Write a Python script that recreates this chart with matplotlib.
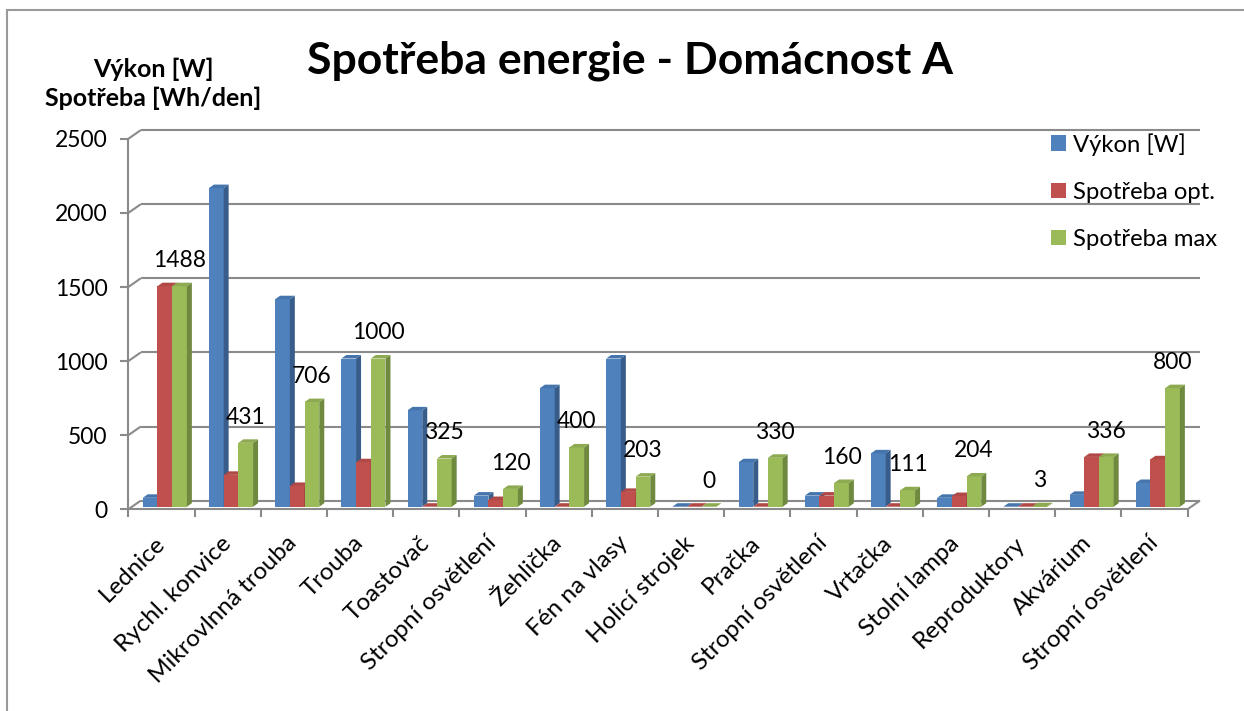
import numpy as np
import matplotlib
matplotlib.use("Agg")
import matplotlib.pyplot as plt
from matplotlib.patches import Polygon, Rectangle, Patch
from matplotlib.transforms import ScaledTranslation

plt.rcParams["font.family"] = ["Lato", "DejaVu Sans"]

# --- data -------------------------------------------------------------
categories = ["Lednice", "Rychl. konvice", "Mikrovlnná trouba", "Trouba",
              "Toastovač", "Stropní osvětlení", "Žehlička", "Fén na vlasy",
              "Holicí strojek", "Pračka", "Stropní osvětlení", "Vrtačka",
              "Stolní lampa", "Reproduktory", "Akvárium", "Stropní osvětlení"]
vykon = [60, 2150, 1400, 1000, 650, 75, 800, 1000, 0, 300, 75, 360, 60, 0, 80, 160]
spotreba_opt = [1488, 215, 140, 300, 0, 45, 0, 100, 0, 0, 75, 0, 72, 0, 336, 320]
spotreba_max = [1488, 431, 706, 1000, 325, 120, 400, 203, 0, 330, 160, 111, 204, 3, 336, 800]
series_names = ["Výkon [W]", "Spotřeba opt.", "Spotřeba max"]
y_ticks = [0, 500, 1000, 1500, 2000, 2500]

title = "Spotřeba energie - Domácnost A"
y_title = "Výkon [W]\nSpotřeba [Wh/den]"

# --- style ------------------------------------------------------------
front_cols = ["#4F81BD", "#C0504D", "#9BBB59"]
side_cols = ["#385D8A", "#8C3A38", "#6F893F"]
top_cols = ["#4675AD", "#B04946", "#8DAA50"]
grid_col = "#8A8A8A"

W, H = 1244, 711
DPI = 100
fig = plt.figure(figsize=(W / DPI, H / DPI), dpi=DPI)

# plot area (front plane) in pixels
ax_l, ax_r = 128.3, 1187.5
ax_b, ax_t = 509.3, 138.8
ax = fig.add_axes([ax_l / W, 1 - ax_b / H, (ax_r - ax_l) / W, (ax_b - ax_t) / H])

n = len(categories)
ymax = 2500
ax.set_xlim(0, n)
ax.set_ylim(0, ymax)
px_x = (ax_r - ax_l) / n          # pixels per category
px_y = (ax_b - ax_t) / ymax       # pixels per unit

# depth of the back wall and of the bars, converted to data units
wall_dx, wall_dy = 12.5 / px_x, 8.7 / px_y
bar_dx, bar_dy = 5.0 / px_x, 3.5 / px_y

# walls / gridlines
line_kw = dict(color=grid_col, lw=1.5, clip_on=False, zorder=1, solid_capstyle="butt")
for v in y_ticks:
    ax.plot([0, wall_dx], [v, v + wall_dy], **line_kw)
    ax.plot([wall_dx, n + wall_dx], [v + wall_dy, v + wall_dy], **line_kw)
ax.plot([n, n + wall_dx], [0, wall_dy], **line_kw)

for s in ["top", "right"]:
    ax.spines[s].set_visible(False)
for s in ["left", "bottom"]:
    ax.spines[s].set_color(grid_col)
    ax.spines[s].set_linewidth(1.5)

ax.set_yticks(y_ticks)
ax.set_yticklabels([str(v) for v in y_ticks])
ax.set_xticks(range(n + 1))
ax.set_xticklabels([])
ax.set_xticks(np.arange(n) + 0.5, minor=True)
ax.set_xticklabels(categories, minor=True, rotation=45, ha="right",
                   va="center", rotation_mode="anchor")
ax.tick_params(axis="y", length=6, width=1.5, color=grid_col, pad=9,
               labelsize=16.5)
ax.tick_params(axis="x", which="major", length=6, width=1.5, color=grid_col)
ax.tick_params(axis="x", which="minor", length=0, pad=22, labelsize=17.5)

# bars: front faces sit slightly behind the front plane
shift = ScaledTranslation(3.4 / DPI, 2.6 / DPI, fig.dpi_scale_trans)
bar_tr = ax.transData + shift
w = 1 / 4.5
data = [vykon, spotreba_opt, spotreba_max]
for i in range(n):
    for k in range(3):
        v = data[k][i]
        x0 = i + 0.75 * w + k * w
        x1 = x0 + w
        ax.add_patch(Rectangle((x0, 0), w, v, facecolor=front_cols[k],
                               edgecolor="none", transform=bar_tr, zorder=3))
        ax.add_patch(Polygon([(x1, 0), (x1, v), (x1 + bar_dx, v + bar_dy),
                              (x1 + bar_dx, bar_dy)], closed=True,
                             facecolor=side_cols[k], edgecolor="none",
                             transform=bar_tr, zorder=3))
        ax.add_patch(Polygon([(x0, v), (x1, v), (x1 + bar_dx, v + bar_dy),
                              (x0 + bar_dx, v + bar_dy)], closed=True,
                             facecolor=top_cols[k], edgecolor="none",
                             transform=bar_tr, zorder=3))
        if k == 2:
            ax.annotate(str(v), (x0 + w / 2, v), xycoords=bar_tr,
                        xytext=(0, 18.5), textcoords="offset points",
                        ha="center", va="center", fontsize=16.5, zorder=5)

# titles
fig.text(630 / W, 1 - 61 / H, title, ha="center", va="center",
         fontsize=32, fontweight="bold")
fig.text(153 / W, 1 - 84 / H, y_title, ha="center", va="center",
         fontsize=18, fontweight="bold", linespacing=1.3)

# legend
handles = [Patch(facecolor=c, edgecolor="none") for c in front_cols]
fig.legend(handles, series_names, loc="upper left",
           bbox_to_anchor=(1039 / W, 1 - 121 / H), frameon=False,
           fontsize=17.2, handlelength=0.62, handleheight=0.62,
           handletextpad=0.3, labelspacing=1.1, borderpad=0)

# chart border
fig.add_artist(Rectangle((7 / W, -0.1), 1.2, 1 - 10 / H + 0.1,
                         transform=fig.transFigure, fill=False,
                         edgecolor="#9A9A9A", lw=1.5))

fig.savefig("out.png", dpi=DPI)
